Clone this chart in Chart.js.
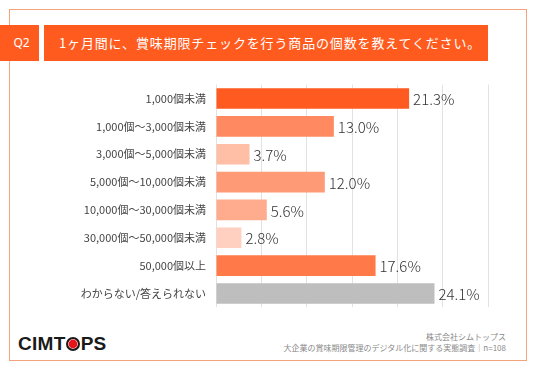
<!DOCTYPE html>
<html>
<head>
<meta charset="utf-8">
<script src="https://cdn.jsdelivr.net/npm/chart.js@4"></script>
<style>
  body { margin: 0; width: 536px; height: 371px; background: #fff; position: relative; overflow: hidden;
         font-family: "Noto Sans CJK JP", "Noto Sans", sans-serif; }
  .frame { position: absolute; left: 9px; top: 9px; width: 516px; height: 350px; border: 1.5px solid #F3A27A; }
  .q { position: absolute; left: 0; top: 25px; width: 39px; height: 36px; background: #FF5B1F; color: #fff;
       font-size: 12px; line-height: 36px; text-align: center; font-family: "Noto Sans", sans-serif; padding-left: 4px; box-sizing: border-box; }
  .title { position: absolute; left: 44px; top: 25px; width: 444px; height: 36px; background: #FF5B1F; color: #fff;
           font-size: 13px; line-height: 36px; padding-left: 15px; box-sizing: border-box; letter-spacing: 0.85px; }
  .chartbox { position: absolute; left: 0; top: 68px; width: 510px; height: 256px; }
  .logo { position: absolute; left: 18px; top: 333px; font-family: "Liberation Sans", Arial, sans-serif; font-weight: bold;
          font-size: 19px; color: #1a1a1a; letter-spacing: 0.3px; }
  .logo .o { display: inline-block; width: 10px; height: 10px; border: 2.8px solid #1a1a1a; border-radius: 50%;
             background: #E8141B; vertical-align: -1px; margin: 0 0.5px; box-shadow: inset 0 0 0 0.6px #fff; }
  .note { position: absolute; right: 30px; top: 331px; text-align: right; color: #8a8a8a; font-size: 8px; line-height: 11px; }
</style>
</head>
<body>
<div class="frame"></div>
<div class="q">Q2</div>
<div class="title">1ヶ月間に、賞味期限チェックを行う商品の個数を教えてください。</div>
<div class="chartbox"><canvas id="chart"></canvas></div>
<div class="logo">CIMT<span class="o"></span>PS</div>
<div class="note">株式会社シムトップス<br>大企業の賞味期限管理のデジタル化に関する実態調査｜n=108</div>
<script>
const categories = [
  '1,000個未満',
  '1,000個～3,000個未満',
  '3,000個～5,000個未満',
  '5,000個～10,000個未満',
  '10,000個～30,000個未満',
  '30,000個～50,000個未満',
  '50,000個以上',
  'わからない/答えられない'
];
const values = [21.3, 13.0, 3.7, 12.0, 5.6, 2.8, 17.6, 24.1];
const barColors = ['#FF5A1F', '#FF8A62', '#FFBEA6', '#FF9A76', '#FFAB8E', '#FFD0BF', '#FF7A48', '#BEBEBE'];

const valueLabels = {
  id: 'valueLabels',
  afterDatasetsDraw(chart) {
    const ctx = chart.ctx;
    const meta = chart.getDatasetMeta(0);
    ctx.save();
    ctx.font = '300 15px "Noto Sans CJK JP", "Noto Sans", sans-serif';
    ctx.fillStyle = '#333333';
    ctx.textAlign = 'left';
    ctx.textBaseline = 'middle';
    meta.data.forEach((bar, i) => {
      ctx.fillText(values[i].toFixed(1) + '%', bar.x + 4, bar.y + 1);
    });
    ctx.restore();
  }
};

new Chart(document.getElementById('chart'), {
  type: 'bar',
  data: {
    labels: categories,
    datasets: [{
      data: values,
      backgroundColor: barColors,
      categoryPercentage: 1,
      barPercentage: 0.74
    }]
  },
  options: {
    indexAxis: 'y',
    responsive: true,
    maintainAspectRatio: false,
    animation: false,
    layout: { padding: { left: 0, right: 22, top: 4, bottom: 3 } },
    plugins: { legend: { display: false }, tooltip: { enabled: false } },
    scales: {
      x: {
        min: 0,
        max: 30,
        ticks: { display: false, stepSize: 5 },
        grid: { color: '#E2E2E2', drawTicks: false },
        border: { display: false }
      },
      y: {
        afterFit(scale) { scale.width = 216; },
        ticks: {
          color: '#444444',
          padding: 10,
          font: { family: '"Noto Sans CJK JP", "Noto Sans", sans-serif', size: 11 }
        },
        grid: { display: false, drawTicks: false },
        border: { display: false }
      }
    }
  },
  plugins: [valueLabels]
});
</script>
</body>
</html>
